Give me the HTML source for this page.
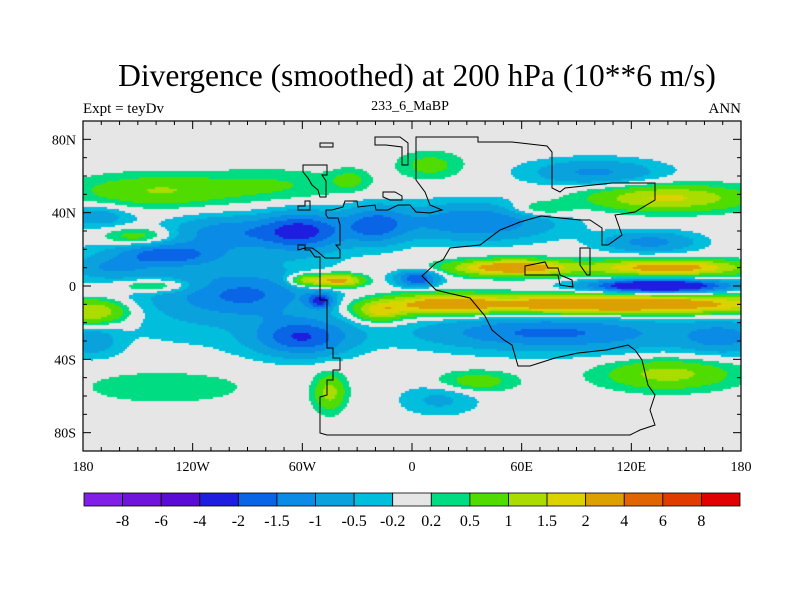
<!DOCTYPE html>
<html><head><meta charset="utf-8"><style>
body{margin:0;background:#fff;width:800px;height:600px;overflow:hidden;position:relative;font-family:"Liberation Serif",serif;}
.t{position:absolute;white-space:nowrap;color:#000;}
</style></head><body>
<div class="t" style="left:0;width:834px;text-align:center;top:58px;font-size:31.5px;">Divergence (smoothed) at 200 hPa (10**6 m/s)</div>
<div class="t" style="left:83px;top:101px;font-size:15px;">Expt = teyDv</div>
<div class="t" style="left:310px;width:200px;text-align:center;top:99px;font-size:14px;">233_6_MaBP</div>
<div class="t" style="left:641px;width:100px;text-align:right;top:101px;font-size:15px;">ANN</div>
<canvas id="map" width="658" height="330" style="position:absolute;left:83px;top:121px;"></canvas>
<svg id="ov" width="800" height="600" style="position:absolute;left:0;top:0;"></svg>
<script>
const blobLon=[-140,-75,-34,-150,-172,-60,-20,-100,-135,-165,-140,-90,-60,-175,-135,-45,-40,-58,-50,-18,3,135,110,15,55,140,140,70,35,130,100,10,70,35,140,15,-175,170,-110,100,-120];
const blobLat=[52,55,58,27,38,30,33,30,17,10,0,-5,-28,-14,-55,-58,3,3,-8,-14,4,0,-10,-10,10,10,48,42,35,24,62,66,-25,-52,-48,-62,-30,-28,-5,-28,22];
const blobAmp=[1.0,0.5,0.6,1.0,-0.8,-2.1,-1.6,-1.0,-1.4,-0.8,1.0,-1.1,-1.9,1.7,0.5,1.2,2.5,1.6,-2.0,1.5,-2.0,-3.6,3.3,1.8,2.8,2.5,1.6,0.8,-1.5,-1.2,-1.1,0.7,-1.2,0.8,1.2,-0.6,-0.8,-1.0,-0.6,-0.5,-0.4];
const blobSx=[30,28,7,14,12,16,12,20,18,15,15,25,18,14,30,6,9,7,5,10,8,25,60,20,22,28,30,12,30,18,25,12,45,15,25,15,10,15,45,60,40];
const blobSy=[6,6,4,3.5,4,7,7,6,4,4,2.5,8,7,5,6,7,2.5,2.5,3,4,3,2.5,3.5,4,3,3,5,3,7,4,5,5,6,4,6,6,6,6,18,8,8];
const levels=[-8,-6,-4,-2,-1.5,-1,-0.5,-0.2,0.2,0.5,1,1.5,2,4,6,8];
const levelLabels=["-8","-6","-4","-2","-1.5","-1","-0.5","-0.2","0.2","0.5","1","1.5","2","4","6","8"];
const colors=["#8020e6","#7014dc","#5a0cd6","#1e1ee0","#0a64e6","#0a8ce6","#0aa2dc","#00bedc","#e6e6e6","#00dc82","#50dc00","#aadc00","#dcd200","#dca000","#e06400","#e03c00","#e00000"];
const PX=83,PY=121,PW=658,PH=330;
function xOf(lon){return PX+(lon+180)*PW/360;}
function yOf(lat){return PY+(90-lat)*PH/180;}
function field(lon,lat){let v=0;for(let i=0;i<blobLon.length;i++){const dx=(lon-blobLon[i])/blobSx[i],dy=(lat-blobLat[i])/blobSy[i];v+=blobAmp[i]*Math.exp(-(dx*dx+dy*dy)/2);}return v;}
function cls(v){let k=0;while(k<levels.length&&v>=levels[k])k++;return k;}
const ctx=document.getElementById('map').getContext('2d');
const st=2;
for(let py=0;py<PH;py+=st){for(let px=0;px<PW;px+=st){const lon=(px+st/2)*360/PW-180,lat=90-(py+st/2)*180/PH;ctx.fillStyle=colors[cls(field(lon,lat))];ctx.fillRect(px,py,st,st);}}
const NS='http://www.w3.org/2000/svg';const ov=document.getElementById('ov');
function mk(tag,at){const e=document.createElementNS(NS,tag);for(const k in at)e.setAttribute(k,at[k]);ov.appendChild(e);return e;}
const coastPaths=[
"M303,165 L327,165 L327,175 L322,175 L326,181 L326,197 L320,197 L318,190 L312,185 L308,178 L303,172 Z",
"M298,206 L305,206 L305,201 L310,201 L310,210 L298,210 Z",
"M320,143 L333,143 L333,147 L320,147 Z",
"M375,137 L400,137 L408,143 L408,165 L402,165 L402,147 L386,145 L375,145 Z",
"M383,192 L395,192 L402,196 L402,200 L390,200 L383,197 Z",
"M298,245 L305,245 L305,250 L310,250 L315,257 L320,257 L320,262 L320,300 L327,300 L327,348 L333,348 L333,358 L340,358 L340,370 L333,370 L333,380 L327,380 L327,395 L320,397 L320,433 L327,435 L630,435 L640,430 L655,425 L650,410 L655,395 L648,385 L642,360 L635,350 L628,345 L606,350 L578,353 L555,358 L530,366 L518,366 L512,345 L504,340 L492,330 L485,316 L470,298 L448,293 L436,290 L422,276 L436,263 L443,260 L450,248 L480,245 L500,230 L520,222 L541,216 L580,220 L590,220 L602,228 L602,245 L608,245 L622,235 L615,215 L635,212 L655,200 L655,183 L622,183 L612,183 L565,188 L560,192 L552,188 L552,152 L547,146 L512,142 L478,142 L478,137 L416,137 L416,180 L425,192 L430,205 L442,210 L430,213 L416,212 L410,205 L398,205 L388,210 L376,210 L375,205 L358,207 L357,201 L345,201 L343,207 L332,210 L326,210 L326,215 L328,218 L338,218 L340,225 L340,245 L336,245 L340,250 L340,258 L325,258 L318,252 L312,248 L305,248 L298,250 Z",
"M525,266 L545,262 L548,268 L558,268 L560,275 L572,280 L573,287 L560,285 L558,275 L525,275 Z",
"M580,248 L590,248 L590,275 L587,275 L580,265 Z"];
for(const d of coastPaths){const p=mk('path',{d:d,fill:'none',stroke:'#000','stroke-width':1});

}
const fr=mk('rect',{x:PX,y:PY,width:PW,height:PH,fill:'none',stroke:'#000','stroke-width':1.2});


for(let lon=-180;lon<=180;lon+=10){const x=xOf(lon),L=(lon%60===0)?8:4;
mk('line',{x1:x,y1:PY+PH,x2:x,y2:PY+PH-L,stroke:'#000'});mk('line',{x1:x,y1:PY,x2:x,y2:PY+L,stroke:'#000'});}
for(let lat=-90;lat<=90;lat+=10){const y=yOf(lat),L=(lat%40===0)?8:4;
mk('line',{x1:PX,y1:y,x2:PX+L,y2:y,stroke:'#000'});mk('line',{x1:PX+PW,y1:y,x2:PX+PW-L,y2:y,stroke:'#000'});}
const lonTicks=[-180,-120,-60,0,60,120,180];const lonLabels=["180","120W","60W","0","60E","120E","180"];
lonTicks.forEach((v,i)=>{const t=mk('text',{x:xOf(v),y:471,'text-anchor':'middle','font-size':14,'font-family':'Liberation Serif, serif'});t.textContent=lonLabels[i];

});
const latTicks=[80,40,0,-40,-80];const latLabels=["80N","40N","0","40S","80S"];
latTicks.forEach((v,i)=>{const t=mk('text',{x:76,y:yOf(v)+5,'text-anchor':'end','font-size':14,'font-family':'Liberation Serif, serif'});t.textContent=latLabels[i];

});
const CBX=84,CBY=493,CBW=656,CBH=13,bw=CBW/colors.length;
colors.forEach((c,i)=>{const r=mk('rect',{x:CBX+i*bw,y:CBY,width:bw,height:CBH,fill:c,stroke:'#000','stroke-width':0.8});

});
levelLabels.forEach((s,i)=>{const t=mk('text',{x:CBX+(i+1)*bw,y:526,'text-anchor':'middle','font-size':16,'font-family':'Liberation Serif, serif'});t.textContent=s;

});
</script>
</body></html>
